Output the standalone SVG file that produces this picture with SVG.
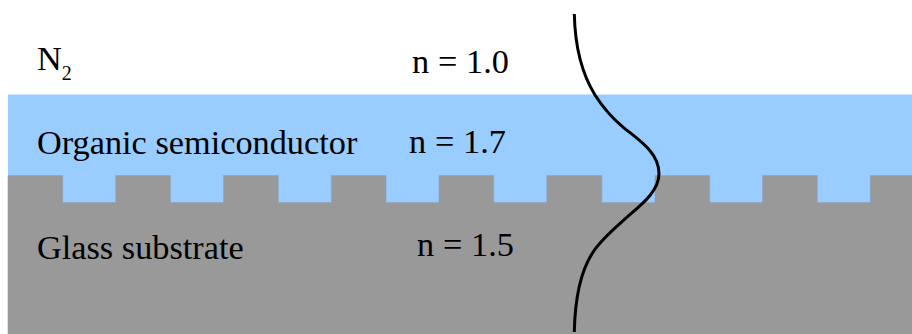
<svg xmlns="http://www.w3.org/2000/svg" width="912" height="334" viewBox="0 0 912 334">
<style>
text{font-family:"Liberation Serif","Times New Roman",serif;font-size:34.3px;fill:#000}
.sub{font-size:20px}
.n{word-spacing:0.2px}
</style>
<rect width="912" height="334" fill="#fff"/>
<g id="organic-layer"><rect x="8" y="94.5" width="904" height="110" fill="#99ccff"/></g>
<g id="glass-substrate"><path d="M8 175.5H62.7V202.5H115.7V175.5H170.5V202.5H223.5V175.5H278.3V202.5H331.3V175.5H386V202.5H439V175.5H493.8V202.5H546.8V175.5H601.8V202.5H655V175.5H709.7V202.5H762.5V175.5H817.3V202.5H870.3V175.5H912V334H8Z" fill="#999999" stroke="#8fa3b8" stroke-width="0.6"/><rect x="8" y="204" width="904" height="130" fill="#999999"/></g>
<g id="labels">
<text x="37" y="70">N<tspan class="sub" dy="10">2</tspan></text>
<text class="n" x="412" y="73">n = 1.0</text>
<text x="37" y="154">Organic semiconductor</text>
<text class="n" x="409" y="153">n = 1.7</text>
<text x="37" y="259">Glass substrate</text>
<text class="n" x="417" y="256">n = 1.5</text>
</g>
<g id="connectors"><path d="M574.3 14C575 46 582 74 595 95C602 106 612 118 623.3 127.3C637.3 139 659 152 659 173.5C659 193 638 207 623.3 220.5C612 230.5 601 240 593.3 251.7C581 270 575 298 574.3 332" fill="none" stroke="#000" stroke-width="3"/></g>
</svg>
